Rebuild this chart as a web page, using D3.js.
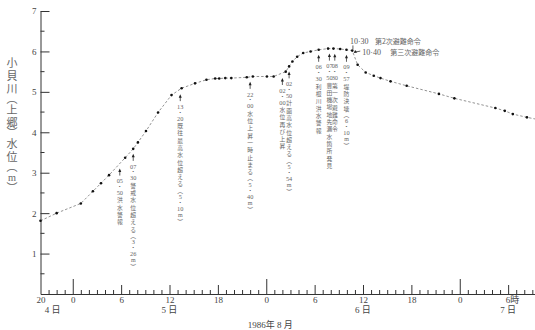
<!DOCTYPE html>
<html><head><meta charset="utf-8">
<script src="https://cdn.jsdelivr.net/npm/d3@7"></script>
<style>body{margin:0;background:#fff} svg{display:block}</style>
</head><body><svg id="c" width="535" height="330"></svg>
<script>
// ---- data ----
const obsTime = ["08-04 20:00","08-04 22:00","08-05 01:00","08-05 02:30","08-05 03:30","08-05 04:30","08-05 06:30","08-05 07:30","08-05 08:05","08-05 09:05","08-05 10:35","08-05 12:15","08-05 13:30","08-05 15:10","08-05 16:35","08-05 17:40","08-05 18:10","08-05 18:55","08-05 19:40","08-05 21:35","08-05 22:20","08-06 00:05","08-06 00:55","08-06 02:25","08-06 02:50","08-06 03:15","08-06 03:50","08-06 04:35","08-06 05:30","08-06 06:30","08-06 07:40","08-06 08:20","08-06 09:10","08-06 09:57","08-06 10:40","08-06 11:20","08-06 12:20","08-06 13:20","08-06 14:10","08-06 15:25","08-06 17:25","08-06 21:25","08-06 23:20","08-07 04:25","08-07 05:35","08-07 06:35","08-07 08:20","08-07 09:20"];
const obsLevel = [1.81,2.00,2.24,2.54,2.74,2.94,3.37,3.59,3.75,4.03,4.49,4.92,5.09,5.21,5.30,5.33,5.33,5.34,5.34,5.36,5.38,5.38,5.38,5.50,5.63,5.75,5.87,5.96,6.00,6.04,6.07,6.07,6.06,6.04,6.02,5.67,5.48,5.40,5.34,5.26,5.15,4.95,4.84,4.60,4.53,4.45,4.37,4.33];

const annoTime = ["08-05 05:50","08-05 07:30","08-05 13:20","08-05 22:00","08-06 02:00","08-06 02:50","08-06 06:30","08-06 07:50","08-06 08:30","08-06 09:57"];
const annoText = ["05·50洪水警報","07·30警戒水位超える（3·26m）","13·20既往最高水位超える（5·10m）","22·00水位上昇一時止まる（5·40m）","02·00水位再び上昇","02·50計画高水位超える（5·54m）","06·30利根川洪水警報","07·50豊田機場地先漏水箇所発見","08·30第一次避難命令","09·57堤防決壊（6·10m）"];

const orderTime = ["08-06 10:30","08-06 10:40"];
const orderClock = ["10·30","10·40"];
const orderName = ["第2次避難命令","第三次避難命令"];

const yTickValues = [1,2,3,4,5,6,7];
const hourLabels = {20:"20",0:"0",6:"6",12:"12",18:"18"};
const lastHourLabel = "6時";
const dayLabels = ["4 日","5 日","6 日","7 日"];
const dayLabelTime = ["08-04 21:30","08-05 12:00","08-06 12:00","08-07 06:00"];
const monthLabel = "1986年 8 月";
const yTitle = "小貝川（上郷）水位（m）";
const domainTime = ["08-04 20:00","08-07 09:20"];

// ---- setup ----
const parse = s => d3.timeParse("%Y-%m-%d %H:%M")("1986-" + s);
const svg = d3.select("#c");
const serif = "'Liberation Serif','DejaVu Serif','Noto Sans CJK JP',serif";
const cjk = "'Noto Sans CJK JP','Liberation Serif',sans-serif";

const x = d3.scaleTime().domain(domainTime.map(parse)).range([40.5, 535]);
const y = d3.scaleLinear().domain([0, 7]).range([294, 11]);

const data = obsTime.map((t, i) => ({t: parse(t), v: obsLevel[i]}));
const bis = d3.bisector(d => d.t).left;
function levelAt(t) {
  const i = bis(data, t);
  if (i <= 0) return data[0].v;
  if (i >= data.length) return data[data.length-1].v;
  const a = data[i-1], b = data[i];
  const f = (t - a.t) / (b.t - a.t);
  return a.v + f * (b.v - a.v);
}

// ---- axes ----
const gx = svg.append("g").attr("transform", `translate(0,${y(0)})`);
const hours = d3.timeHour.range(parse(domainTime[0]), parse(domainTime[1]));
const isLast = d => d.getDate() === 7 && d.getHours() === 6;
gx.call(d3.axisBottom(x).tickValues(hours).tickSizeInner(-4).tickSizeOuter(0).tickPadding(3)
  .tickFormat(d => {
    const h = d.getHours();
    if (isLast(d)) return lastHourLabel;
    if (h === 20) return d.getDate() === 4 ? hourLabels[h] : "";
    return (h in hourLabels) ? hourLabels[h] : "";
  }));
gx.select(".domain").attr("stroke", "#333").attr("stroke-width", 1);
gx.selectAll(".tick line").attr("stroke", "#333").attr("y2", d => {
  const h = d.getHours();
  if (h === 20 && d.getDate() === 4) return 0;
  if (h === 0) return -15;
  if (h % 6 === 0) return -9;
  return -4;
});
gx.selectAll(".tick text").attr("font-family", serif).attr("font-size", 9).attr("fill", "#444")
  .attr("text-anchor", d => isLast(d) ? "start" : "middle")
  .attr("dx", d => isLast(d) ? -3 : 0);
gx.selectAll(".tick text").filter(function(){ return this.textContent === ""; }).remove();

const gy = svg.append("g").attr("transform", `translate(${x.range()[0]},0)`);
gy.call(d3.axisLeft(y).tickValues(yTickValues).tickSizeInner(-9).tickSizeOuter(0).tickPadding(4).tickFormat(d3.format("d")));
gy.select(".domain").attr("stroke", "#333");
gy.selectAll(".tick line").attr("stroke", "#333");
gy.selectAll(".tick text").attr("font-family", serif).attr("font-size", 9).attr("fill", "#444");
gy.selectAll(".minor").data(d3.range(0.5, 7, 1)).enter().append("line")
  .attr("x1", 0).attr("x2", 4).attr("y1", d => y(d)).attr("y2", d => y(d)).attr("stroke", "#333");

// day & month labels
svg.selectAll(".day").data(dayLabels).enter().append("text")
  .attr("x", (d, i) => x(parse(dayLabelTime[i]))).attr("y", 313)
  .attr("text-anchor", "middle").attr("font-family", serif).attr("font-size", 9).attr("fill", "#444").text(d => d);
svg.append("text").attr("x", x(parse("08-06 00:00")) + 4).attr("y", 328).attr("text-anchor", "middle")
  .attr("font-family", serif).attr("font-size", 9).attr("fill", "#444").text(monthLabel);

// ---- vertical text helper: one <text> per column, tokens as tspans ----
function vtext(g, cx, top, str, size, step, color) {
  const toks = str.replace(/（/g, "︵").replace(/）/g, "︶").match(/[0-9]+|./gu);
  const t = g.append("text").attr("text-anchor", "middle").attr("dominant-baseline", "central")
    .attr("font-family", cjk).attr("font-size", size).attr("fill", color);
  let cur = top;
  toks.forEach(tk => {
    let adv = step, fam = null, fs = null, bold = false;
    if (/^[0-9]+$/.test(tk)) { adv = step; fam = serif; fs = step / 1.16; }
    else if (tk === "·") { adv = step * 0.64; fam = serif; fs = step * 0.64 / 1.16; bold = true; }
    else if (tk === "︵" || tk === "︶") { adv = step * 0.7; }
    else if (tk === "m") { adv = step * 0.95; fam = serif; fs = step * 0.95 / 1.16; }
    const s = t.append("tspan").attr("x", cx).attr("y", cur + adv / 2).text(tk);
    if (fam) s.attr("font-family", fam);
    if (fs) s.attr("font-size", fs);
    if (bold) s.attr("font-weight", "bold").attr("stroke", color).attr("stroke-width", 0.5);
    cur += adv;
  });
}

// y title
const gt = svg.append("g").attr("opacity", 0.999);
vtext(gt, 12, 56, yTitle, 11, 12.6, "#666");

// ---- line & dots ----
const line = d3.line().x(d => x(d.t)).y(d => y(d.v));
svg.append("path").datum(data).attr("d", line).attr("fill", "none")
  .attr("stroke", "#777").attr("stroke-width", 0.8).attr("stroke-dasharray", "2.5,2");
svg.selectAll(".pt").data(data.slice(0, -1)).enter().append("circle")
  .attr("cx", d => x(d.t)).attr("cy", d => y(d.v)).attr("r", 1.3).attr("fill", "#111");

// ---- vertical annotations ----
const ga = svg.append("g").attr("opacity", 0.999);
annoTime.forEach((ts, i) => {
  const t = parse(ts);
  const ax = x(t);
  const tip = y(levelAt(t)) + 5;
  ga.append("line").attr("x1", ax).attr("x2", ax).attr("y1", tip + 2).attr("y2", tip + 7)
    .attr("stroke", "#333").attr("stroke-width", 0.8);
  ga.append("path").attr("d", `M${ax},${tip}L${ax-1.5},${tip+3.5}L${ax+1.5},${tip+3.5}Z`).attr("fill", "#222");
  vtext(ga, ax, tip + 8, annoText[i], 5.8, 7.3, "#666");
});

// ---- horizontal evacuation orders ----
const go = svg.append("g").attr("opacity", 0.999);
orderTime.forEach((ts, i) => {
  const t = parse(ts);
  const ox = x(t), oy = y(levelAt(t));
  if (i === 0) {
    const base = oy - 6;
    go.append("text").attr("x", ox - 1).attr("y", base).attr("font-family", serif).attr("font-size", 8).attr("fill", "#555").text(orderClock[i]);
    go.append("text").attr("x", ox + 24).attr("y", base).attr("font-family", cjk).attr("font-size", 7).attr("fill", "#666").text(orderName[i]);
    go.append("line").attr("x1", ox + 2).attr("x2", ox + 2).attr("y1", base + 1).attr("y2", oy - 1).attr("stroke", "#333").attr("stroke-width", 0.8);
  } else {
    const base = oy + 4.5;
    go.append("text").attr("x", ox + 10).attr("y", base).attr("font-family", serif).attr("font-size", 8).attr("fill", "#555").text(orderClock[i]);
    go.append("text").attr("x", ox + 38).attr("y", base).attr("font-family", cjk).attr("font-size", 7).attr("fill", "#666").text(orderName[i]);
    go.append("line").attr("x1", ox + 8).attr("y1", base - 4).attr("x2", ox + 2.5).attr("y2", oy + 1.5).attr("stroke", "#333").attr("stroke-width", 0.8);
    go.append("path").attr("d", `M${ox+1.5},${oy+2.5}l3.4,-0.6l-2,-2.4Z`).attr("fill", "#222");
  }
});
</script></body></html>
